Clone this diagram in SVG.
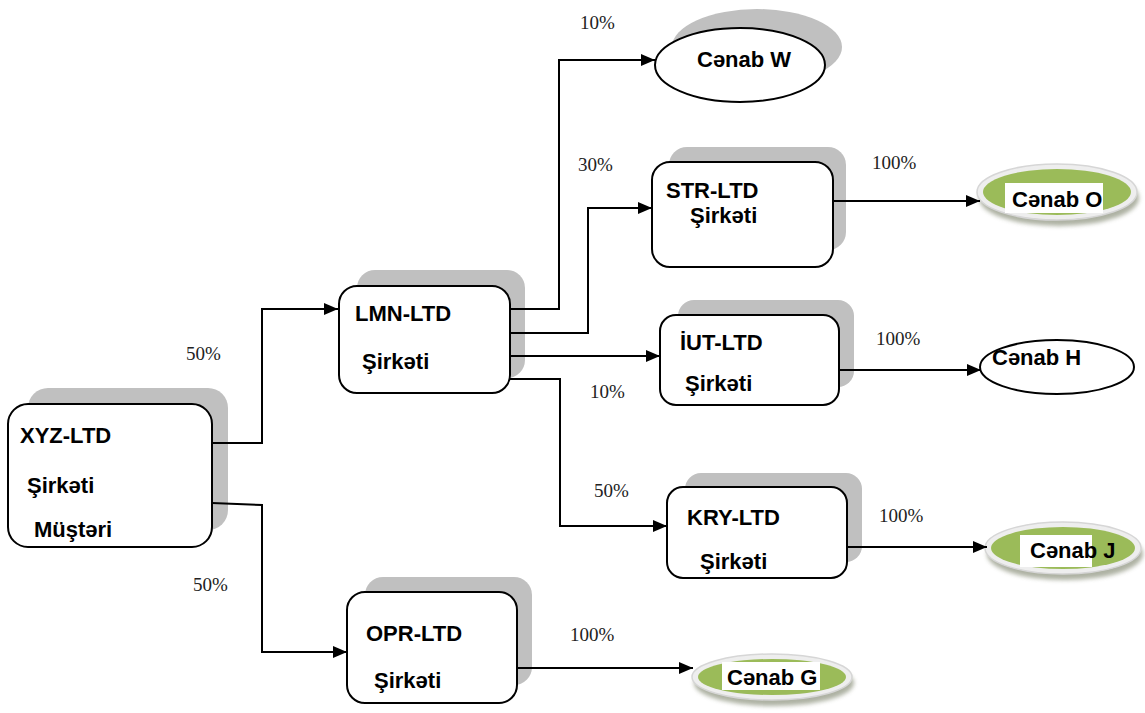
<svg xmlns="http://www.w3.org/2000/svg" width="1145" height="713" viewBox="0 0 1145 713">
<style>
.box{fill:#fff;stroke:#000;stroke-width:2}
.shd{fill:#c0c0c0}
.t{font-family:"Liberation Sans",Arial,sans-serif;font-weight:bold;font-size:22px;fill:#000}
.p{font-family:"Liberation Serif","Times New Roman",serif;font-size:19px;fill:#222}
.c{fill:none;stroke:#000;stroke-width:2}
.ring{fill:#eeeeee;stroke:#d6d6d6;stroke-width:1.5}
.gshd{fill:#9a9f8c;opacity:0.8}
.grn{fill:#9bbb59}
</style>
<defs>
<marker id="arr" markerUnits="userSpaceOnUse" markerWidth="16" markerHeight="12" refX="14" refY="6" orient="auto">
<path d="M0,0 L14,6 L0,12 z" fill="#000"/>
</marker>
<filter id="blur" x="-20%" y="-20%" width="140%" height="140%"><feGaussianBlur stdDeviation="2"/></filter>
</defs>

<g id="labels">
<text class="p" x="186" y="360">50%</text>
<text class="p" x="193" y="591">50%</text>
<text class="p" x="580" y="29">10%</text>
<text class="p" x="578" y="171">30%</text>
<text class="p" x="590" y="398">10%</text>
<text class="p" x="594" y="497">50%</text>
<text class="p" x="872" y="169">100%</text>
<text class="p" x="876" y="345">100%</text>
<text class="p" x="879" y="522">100%</text>
<text class="p" x="570" y="641">100%</text>
</g>

<g id="xyz">
<rect class="shd" x="28" y="388" width="200" height="142" rx="20"/>
<rect class="box" x="8" y="404" width="204" height="143" rx="20"/>
<text class="t" x="20" y="443">XYZ-LTD</text>
<text class="t" x="27" y="493">Şirkəti</text>
<text class="t" x="34" y="537">Müştəri</text>
</g>

<g id="lmn">
<rect class="shd" x="357" y="270" width="168" height="108" rx="18"/>
<rect class="box" x="339" y="286" width="171" height="107" rx="18"/>
<text class="t" x="355" y="321">LMN-LTD</text>
<text class="t" x="362" y="369">Şirkəti</text>
</g>

<g id="opr">
<rect class="shd" x="365" y="577" width="167" height="108" rx="18"/>
<rect class="box" x="347" y="592" width="170" height="111" rx="18"/>
<text class="t" x="366" y="641">OPR-LTD</text>
<text class="t" x="374" y="688">Şirkəti</text>
</g>

<g id="str">
<rect class="shd" x="669" y="147" width="177" height="103" rx="18"/>
<rect class="box" x="652" y="162" width="181" height="105" rx="18"/>
<text class="t" x="666" y="198">STR-LTD</text>
<text class="t" x="690" y="223">Şirkəti</text>
</g>

<g id="iut">
<rect class="shd" x="678" y="300" width="176" height="87" rx="16"/>
<rect class="box" x="660" y="315" width="179" height="90" rx="16"/>
<text class="t" x="680" y="350">İUT-LTD</text>
<text class="t" x="685" y="391">Şirkəti</text>
</g>

<g id="kry">
<rect class="shd" x="685" y="473" width="177" height="89" rx="16"/>
<rect class="box" x="667" y="487" width="180" height="91" rx="16"/>
<text class="t" x="687" y="525">KRY-LTD</text>
<text class="t" x="700" y="569">Şirkəti</text>
</g>

<g id="w">
<ellipse class="shd" cx="757" cy="47" rx="85" ry="38"/>
<ellipse cx="740" cy="65" rx="85" ry="37" fill="#fff" stroke="#000" stroke-width="2"/>
<text class="t" x="697" y="67">Cənab W</text>
</g>

<g id="o">
<ellipse class="gshd" cx="1059" cy="198" rx="80" ry="28" filter="url(#blur)"/>
<ellipse class="ring" cx="1057" cy="192" rx="80" ry="28"/>
<ellipse class="grn" cx="1057" cy="192" rx="74" ry="23"/>
<rect x="1005" y="183" width="98" height="30" fill="#fff"/>
<text class="t" x="1012" y="207">Cənab O</text>
</g>

<g id="h">
<ellipse cx="1057" cy="367" rx="77" ry="27" fill="#fff" stroke="#000" stroke-width="2"/>
<text class="t" x="992" y="365">Cənab H</text>
</g>

<g id="j">
<ellipse class="gshd" cx="1065" cy="554" rx="78" ry="26" filter="url(#blur)"/>
<ellipse class="ring" cx="1063" cy="548" rx="78" ry="26"/>
<ellipse class="grn" cx="1063" cy="548" rx="72" ry="21"/>
<rect x="1020" y="535" width="72" height="32" fill="#fff"/>
<text class="t" x="1030" y="558">Cənab J</text>
</g>

<g id="g">
<ellipse class="gshd" cx="774" cy="683" rx="80" ry="23" filter="url(#blur)"/>
<ellipse class="ring" cx="772" cy="677" rx="80" ry="23"/>
<ellipse class="grn" cx="772" cy="677" rx="74" ry="18"/>
<rect x="722" y="662" width="98" height="28" fill="#fff"/>
<text class="t" x="727" y="685">Cənab G</text>
</g>

<g id="connectors">
<path class="c" marker-end="url(#arr)" d="M212,443 H262 V309 H338"/>
<path class="c" marker-end="url(#arr)" d="M212,503 L262,505 V652 H347"/>
<path class="c" marker-end="url(#arr)" d="M510,309 H559 V60 H655"/>
<path class="c" marker-end="url(#arr)" d="M510,333 H588 V208 H652"/>
<path class="c" marker-end="url(#arr)" d="M510,356 H660"/>
<path class="c" marker-end="url(#arr)" d="M510,379 H560 V526 H667"/>
<path class="c" marker-end="url(#arr)" d="M833,201 H980"/>
<path class="c" marker-end="url(#arr)" d="M839,370 H981"/>
<path class="c" marker-end="url(#arr)" d="M847,547 H987"/>
<path class="c" marker-end="url(#arr)" d="M517,668 H693"/>
</g>
</svg>
